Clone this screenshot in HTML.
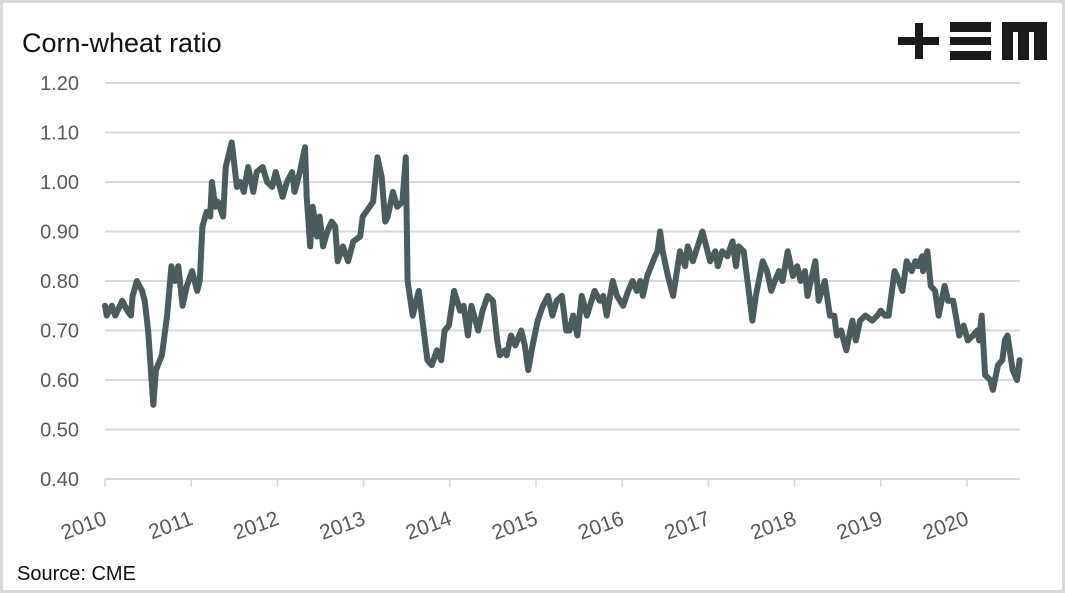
<!DOCTYPE html>
<html><head><meta charset="utf-8"><style>
html,body{margin:0;padding:0;background:#fff;}
svg{display:block;font-family:"Liberation Sans",sans-serif;}
</style></head><body>
<svg id="chart" width="1065" height="593" viewBox="0 0 1065 593">
<rect x="1.5" y="1.5" width="1062" height="590" fill="#fff" stroke="#d9d9d9" stroke-width="3"/>
<text x="22" y="52" font-size="27" fill="#111">Corn-wheat ratio</text>
<g fill="#1a1a1a">
<rect x="898" y="37" width="41" height="8"/><rect x="915" y="23" width="8" height="36"/>
<rect x="950" y="22" width="41" height="10"/><rect x="950" y="37" width="41" height="8"/><rect x="950" y="51" width="41" height="9"/>
<path d="M1002 22H1047V60H1034V32H1029V60H1018V32H1013V60H1002Z"/>
</g>
<g id="grid"></g><g id="xticks"></g><g id="ylabels"></g><g id="xlabels"></g>
<path id="line" fill="none" stroke="#4a5c5e" stroke-width="6" stroke-linejoin="round" stroke-linecap="round"/>
<text x="17" y="580" font-size="20" fill="#111">Source: CME</text>
</svg>
<script>
const yTicks=[0.40,0.50,0.60,0.70,0.80,0.90,1.00,1.10,1.20];
const yearLabels=["2010","2011","2012","2013","2014","2015","2016","2017","2018","2019","2020"];
const dates=[2010.00,2010.02,2010.08,2010.12,2010.20,2010.26,2010.30,2010.32,2010.37,2010.43,2010.46,2010.50,2010.56,2010.59,2010.66,2010.72,2010.77,2010.81,2010.85,2010.90,2010.95,2011.01,2011.07,2011.10,2011.13,2011.18,2011.22,2011.24,2011.28,2011.31,2011.37,2011.40,2011.47,2011.53,2011.57,2011.61,2011.66,2011.72,2011.76,2011.83,2011.88,2011.94,2011.98,2012.06,2012.11,2012.17,2012.20,2012.26,2012.32,2012.34,2012.38,2012.41,2012.46,2012.49,2012.53,2012.58,2012.63,2012.67,2012.70,2012.76,2012.82,2012.88,2012.96,2012.99,2013.07,2013.11,2013.16,2013.21,2013.25,2013.28,2013.34,2013.39,2013.45,2013.49,2013.51,2013.57,2013.64,2013.74,2013.79,2013.85,2013.90,2013.94,2013.99,2014.05,2014.12,2014.16,2014.21,2014.25,2014.33,2014.38,2014.44,2014.50,2014.55,2014.58,2014.64,2014.66,2014.71,2014.76,2014.83,2014.87,2014.91,2014.96,2015.02,2015.08,2015.14,2015.19,2015.24,2015.30,2015.35,2015.39,2015.43,2015.48,2015.53,2015.59,2015.68,2015.74,2015.78,2015.82,2015.89,2015.94,2016.01,2016.07,2016.12,2016.17,2016.21,2016.24,2016.29,2016.38,2016.41,2016.44,2016.47,2016.53,2016.59,2016.67,2016.73,2016.76,2016.82,2016.93,2017.02,2017.08,2017.11,2017.16,2017.22,2017.28,2017.32,2017.35,2017.41,2017.46,2017.51,2017.55,2017.63,2017.68,2017.73,2017.77,2017.82,2017.86,2017.92,2017.98,2018.03,2018.07,2018.12,2018.15,2018.24,2018.28,2018.35,2018.41,2018.46,2018.49,2018.54,2018.60,2018.67,2018.71,2018.76,2018.82,2018.90,2018.96,2019.00,2019.05,2019.09,2019.16,2019.21,2019.25,2019.30,2019.36,2019.40,2019.43,2019.48,2019.49,2019.54,2019.58,2019.63,2019.67,2019.74,2019.78,2019.84,2019.87,2019.91,2019.96,2020.01,2020.07,2020.12,2020.14,2020.17,2020.21,2020.27,2020.30,2020.36,2020.41,2020.44,2020.47,2020.53,2020.58,2020.61];
const ratios=[0.75,0.73,0.75,0.73,0.76,0.74,0.73,0.77,0.80,0.78,0.76,0.70,0.55,0.62,0.65,0.73,0.83,0.80,0.83,0.75,0.79,0.82,0.78,0.80,0.91,0.94,0.93,1.00,0.95,0.96,0.93,1.03,1.08,0.99,1.00,0.98,1.03,0.98,1.02,1.03,1.00,0.99,1.02,0.97,1.00,1.02,0.98,1.02,1.07,0.97,0.87,0.95,0.89,0.93,0.87,0.90,0.92,0.91,0.84,0.87,0.84,0.88,0.89,0.93,0.95,0.96,1.05,1.01,0.92,0.93,0.98,0.95,0.96,1.05,0.80,0.73,0.78,0.64,0.63,0.66,0.64,0.70,0.71,0.78,0.74,0.75,0.69,0.75,0.70,0.74,0.77,0.76,0.68,0.65,0.66,0.65,0.69,0.67,0.70,0.67,0.62,0.67,0.72,0.75,0.77,0.73,0.76,0.77,0.70,0.70,0.73,0.69,0.77,0.73,0.78,0.76,0.77,0.73,0.80,0.77,0.75,0.78,0.80,0.78,0.80,0.77,0.81,0.85,0.86,0.90,0.86,0.81,0.77,0.86,0.83,0.87,0.84,0.90,0.84,0.86,0.83,0.86,0.85,0.88,0.83,0.87,0.86,0.79,0.72,0.77,0.84,0.82,0.78,0.80,0.82,0.80,0.86,0.81,0.83,0.80,0.82,0.77,0.84,0.76,0.80,0.73,0.73,0.69,0.70,0.66,0.72,0.68,0.72,0.73,0.72,0.73,0.74,0.73,0.73,0.82,0.80,0.78,0.84,0.82,0.84,0.83,0.85,0.82,0.86,0.79,0.78,0.73,0.79,0.76,0.76,0.73,0.69,0.71,0.68,0.69,0.70,0.68,0.73,0.61,0.60,0.58,0.63,0.64,0.68,0.69,0.62,0.60,0.64];
const NS="http://www.w3.org/2000/svg";
const x=yr=>105+(yr-2010)*86.2;
const y=v=>479-(v-0.40)*495;
const grid=document.getElementById('grid'),yl=document.getElementById('ylabels'),xt=document.getElementById('xticks'),xl=document.getElementById('xlabels');
yTicks.forEach(t=>{
 const l=document.createElementNS(NS,'line');
 
 
 l.setAttribute('x1',105);l.setAttribute('x2',1020);l.setAttribute('y1',y(t));l.setAttribute('y2',y(t));
 l.setAttribute('stroke','#d9d9d9');l.setAttribute('stroke-width','2');grid.appendChild(l);
 const tx=document.createElementNS(NS,'text');
 
 
 tx.setAttribute('x',79);tx.setAttribute('y',y(t)+7);tx.setAttribute('text-anchor','end');
 tx.setAttribute('font-size','20');tx.setAttribute('fill','#595959');tx.textContent=t.toFixed(2);yl.appendChild(tx);
});
yearLabels.forEach((lab,i)=>{
 const px=x(2010+i);
 const tk=document.createElementNS(NS,'line');
 
 
 tk.setAttribute('x1',px);tk.setAttribute('x2',px);tk.setAttribute('y1',479);tk.setAttribute('y2',487);
 tk.setAttribute('stroke','#d9d9d9');tk.setAttribute('stroke-width','1.5');xt.appendChild(tk);
 const tx=document.createElementNS(NS,'text');
 
 
 tx.setAttribute('x',px+3);tx.setAttribute('y',524);tx.setAttribute('text-anchor','end');
 tx.setAttribute('transform','rotate(-20 '+(px+3)+' 524)');
 tx.setAttribute('font-size','21');tx.setAttribute('fill','#595959');tx.textContent=lab;xl.appendChild(tx);
});
let d='';
dates.forEach((dt,i)=>{d+=(i?'L':'M')+x(dt).toFixed(1)+' '+y(ratios[i]).toFixed(1);});
document.getElementById('line').setAttribute('d',d);
</script>
</body></html>
